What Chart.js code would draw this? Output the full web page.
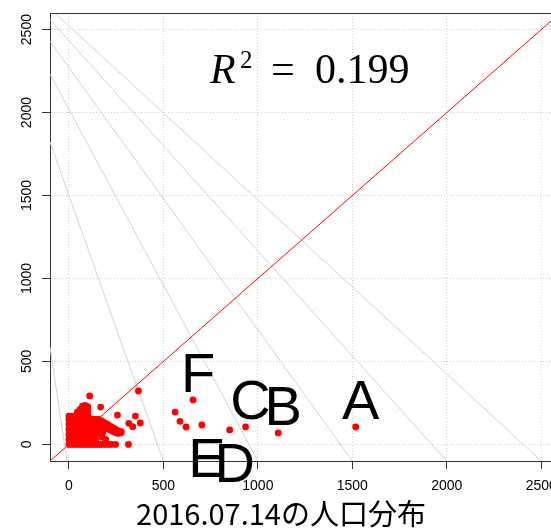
<!DOCTYPE html>
<html lang="ja">
<head>
<meta charset="UTF-8">
<title>2016.07.14の人口分布</title>
<style>
  html, body { margin: 0; padding: 0; background: #fff; overflow: hidden; }
  #wrap { width: 551px; height: 531px; overflow: hidden; }
</style>
<script src="https://cdn.jsdelivr.net/npm/chart.js"></script>
</head>
<body>
<div id="wrap"><canvas id="popChart" width="566" height="531"></canvas></div>
<script>
// axis ticks
const xTicks = [0, 500, 1000, 1500, 2000, 2500];
const yTicks = [0, 500, 1000, 1500, 2000, 2500];

// dense cluster of small areas near the origin [x, y]
const clusterPts = [
  [0,0],[0,30],[0,60],[0,90],[0,120],[0,150],[0,170],
  [15,0],[15,30],[15,60],[15,90],[15,120],[15,150],[15,170],
  [30,0],[30,30],[30,60],[30,90],[30,120],[30,150],[30,170],
  [45,0],[45,30],[45,60],[45,90],[45,120],[45,150],[45,175],[45,195],
  [58,0],[58,30],[58,60],[58,90],[58,120],[58,150],[58,180],[58,210],
  [72,0],[72,30],[72,60],[72,90],[72,120],[72,150],[72,180],[72,210],[72,230],
  [86,0],[86,30],[86,60],[86,90],[86,120],[86,150],[86,180],[86,210],[86,235],
  [100,0],[100,30],[100,60],[100,90],[100,120],[100,150],[100,180],[100,205],[100,228],
  [114,0],[114,30],[114,60],[114,90],[114,120],[114,150],
  [128,0],[128,30],[128,60],[128,90],[128,120],[128,152],
  [142,0],[142,30],[142,60],[142,90],[142,120],[142,150],
  [156,150],[168,145],[180,136],[192,128],[204,120],[216,112],[228,104],[240,96],[252,88],[264,80],[276,70],
  [155,120],[170,112],[185,104],[200,96],[215,88],[230,80],[245,72],[260,66],
  [156,95],[160,70],[175,45],[195,30],
  [156,0],[168,0],[180,0],[195,0],[210,0],[225,0]
];

// scattered points away from the cluster
const otherX = [110, 368, 168, 257, 352, 378, 317, 338, 180, 277, 247, 315, 562, 588, 620];
const otherY = [292, 322, 225, 177, 171, 129, 127, 107,  71,  77,   0,   0, 195, 139, 105];

// labelled areas
const markNames = ['A', 'B', 'C', 'D', 'E', 'F'];
const markX = [1518, 1108, 935, 851, 704, 657];
const markY = [105, 69, 105, 87, 117, 268];
const markSide = ['above', 'above', 'above', 'below', 'below', 'above'];

// grey guide lines: upper-left end and lower end (on y = -100)
const guideTop = [[-100, 587], [-100, 1822], [-100, 2232], [-100, 2430], [-100, 2560], [-74, 2600]];
const guideBottomX = [-10, 500, 1000, 1500, 2000, 2500];
const guideBottomY = -100;

const r2Value = '0.199';
const r2Anchor = [1276, 2178]; // centre / baseline in data units
const xTitle = '2016.07.14の人口分布';

const points = clusterPts.map(p => ({ x: p[0], y: p[1] }))
  .concat(otherX.map((v, i) => ({ x: v, y: otherY[i] })))
  .concat(markX.map((v, i) => ({ x: v, y: markY[i] })));

const guideSets = guideTop.map((p, i) => ({
  type: 'line',
  data: [{ x: p[0], y: p[1] }, { x: guideBottomX[i], y: guideBottomY }],
  borderColor: '#d3d3d3',
  borderWidth: 1,
  pointRadius: 0,
  fill: false
}));

const pinTicks = vals => scale => { scale.ticks = vals.map(v => ({ value: v })); };

const decor = {
  id: 'decor',
  afterDraw(chart) {
    const { ctx, chartArea, scales: { x, y } } = chart;
    ctx.save();
    // top of the box
    ctx.strokeStyle = '#333';
    ctx.lineWidth = 1;
    ctx.beginPath();
    ctx.moveTo(chartArea.left, chartArea.top + 0.5);
    ctx.lineTo(chartArea.right, chartArea.top + 0.5);
    ctx.stroke();

    // vertical y tick labels
    ctx.fillStyle = '#000';
    ctx.font = '14px "Liberation Sans"';
    ctx.textAlign = 'center';
    ctx.textBaseline = 'middle';
    y.ticks.forEach(t => {
      ctx.save();
      ctx.translate(27, y.getPixelForValue(t.value));
      ctx.rotate(-Math.PI / 2);
      ctx.fillText(String(t.value), 0, 0);
      ctx.restore();
    });

    // R^2 text
    const cx = x.getPixelForValue(r2Anchor[0]);
    const by = y.getPixelForValue(r2Anchor[1]);
    const left = cx - 100;
    ctx.textAlign = 'left';
    ctx.textBaseline = 'alphabetic';
    ctx.font = 'italic 42px "Liberation Serif"';
    ctx.fillText('R', left, by);
    ctx.font = '25px "Liberation Serif"';
    ctx.fillText('2', left + 30, by - 15);
    ctx.font = '42px "Liberation Serif"';
    ctx.fillText('=', left + 61, by);
    ctx.fillText(r2Value, left + 105, by);

    // area labels
    ctx.font = '56px "Liberation Sans"';
    ctx.textAlign = 'center';
    markNames.forEach((n, i) => {
      const px = x.getPixelForValue(markX[i]) + 5;
      const py = y.getPixelForValue(markY[i]);
      ctx.fillText(n, px, markSide[i] === 'above' ? py - 8 : py + 52);
    });

    // x axis title
    ctx.font = '29px "Noto Sans CJK JP"';
    ctx.fillText(xTitle, 281, 525);
    ctx.restore();
  }
};

new Chart(document.getElementById('popChart').getContext('2d'), {
  type: 'scatter',
  data: {
    datasets: [{
      data: points,
      backgroundColor: '#ff0000',
      borderWidth: 0,
      pointRadius: 3.4
    }, {
      type: 'line',
      data: [{ x: -100, y: -100 }, { x: 2600, y: 2600 }],
      borderColor: '#ff0000',
      borderWidth: 1,
      pointRadius: 0,
      fill: false
    }].concat(guideSets)
  },
  options: {
    responsive: false,
    animation: false,
    devicePixelRatio: 1,
    layout: { padding: { top: 13, right: 2, left: 0, bottom: 0 } },
    plugins: { legend: { display: false }, tooltip: { enabled: false } },
    scales: {
      x: {
        type: 'linear',
        min: -100,
        max: 2600,
        afterBuildTicks: pinTicks(xTicks),
        afterFit: s => { s.height = 70; },
        grid: { color: '#cfcfcf', lineWidth: 1, tickColor: '#333', tickLength: 8, tickWidth: 1 },
        border: { color: '#333', width: 1, dash: [1, 2] },
        ticks: {
          color: '#000',
          font: { family: 'Liberation Sans', size: 14 },
          padding: 9,
          maxRotation: 0,
          autoSkip: false,
          callback: v => String(v)
        }
      },
      y: {
        type: 'linear',
        min: -100,
        max: 2600,
        afterBuildTicks: pinTicks(yTicks),
        afterFit: s => { s.width = 50; },
        grid: { color: '#cfcfcf', lineWidth: 1, tickColor: '#333', tickLength: 8, tickWidth: 1 },
        border: { color: '#333', width: 1, dash: [1, 2] },
        ticks: { display: false }
      }
    }
  },
  plugins: [decor]
});
</script>
</body>
</html>
